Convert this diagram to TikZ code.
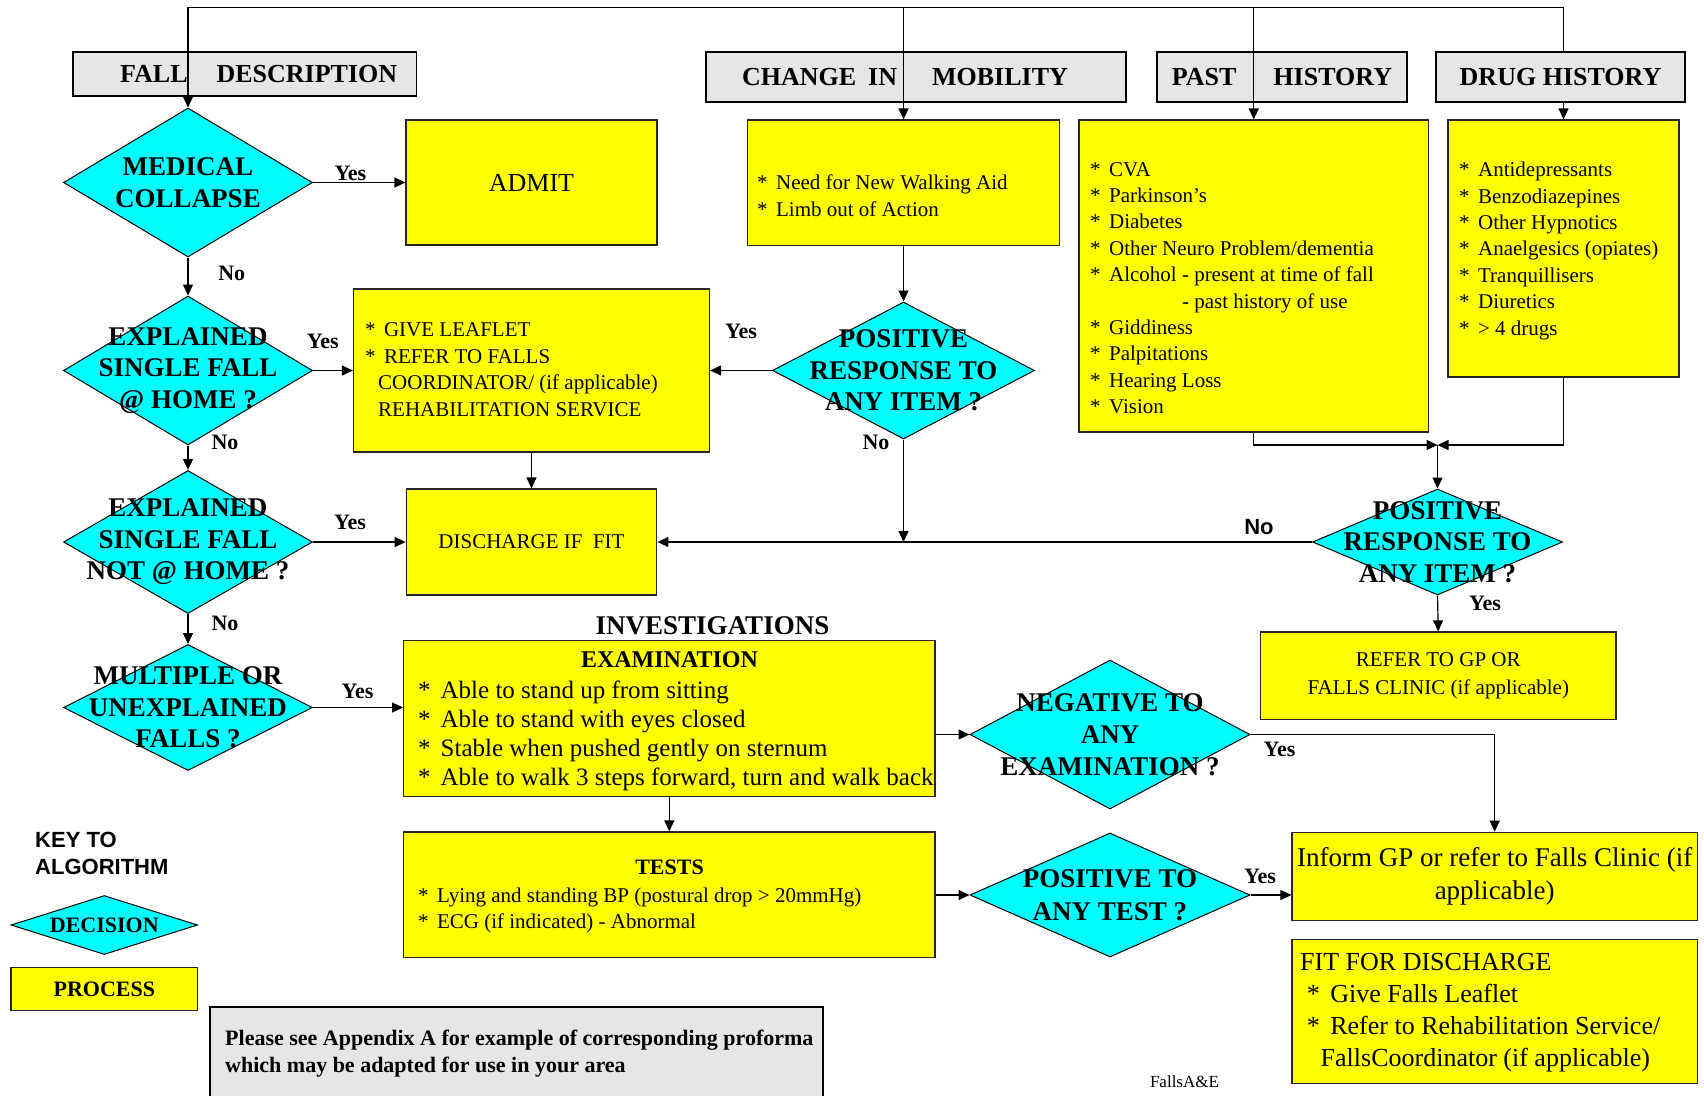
\documentclass[tikz,border=0pt]{standalone}
\usepackage{fontspec}
\setmainfont{Liberation Serif}
\setsansfont{Liberation Sans}
\usepackage{xcolor}
\usepackage{tikz}
\usetikzlibrary{shapes.geometric,arrows.meta,calc}
\definecolor{boxgray}{HTML}{E6E6E6}
\definecolor{procyellow}{HTML}{FFFF00}
\definecolor{deccyan}{HTML}{00FFFF}
\newcommand{\fsz}[2]{\fontsize{#1}{#2}\selectfont}
\newcommand{\bul}{*\hspace{0.4em}}

\begin{document}
\begin{tikzpicture}[x=1pt,y=-1pt,
	header/.style={draw,line width=1.6pt,fill=boxgray,inner sep=0pt,font=\fsz{26}{30}\bfseries},
	process/.style={draw=black!85,line width=1.2pt,fill=procyellow,inner sep=0pt,font=\fsz{21}{27}},
	decision/.style={diamond,draw,line width=1pt,fill=deccyan,inner sep=0pt},
	dtext/.style={align=center,inner sep=0pt,font=\fsz{27}{31.5}\bfseries},
	ltext/.style={align=left,anchor=north west,inner sep=0pt,font=\fsz{21}{26.4}},
	answer/.style={inner sep=0pt,font=\fsz{22}{26}\bfseries},
	arr/.style={line width=1.2pt,-{Triangle[length=11pt,width=10pt]}}]
	\useasboundingbox (0,0) rectangle (1704,1095);
	\node[header,minimum width=343.5pt,minimum height=44pt] (fdesc) at (244.7,74) {\hspace*{28pt}FALL\hspace{29pt}DESCRIPTION};
	\node[header,line width=2.6pt,minimum width=420pt,minimum height=50pt] (chmob) at (916,77) {CHANGE\hspace{12pt}IN\hspace{35pt}MOBILITY\hspace*{22pt}};
	\node[header,minimum width=250pt,minimum height=50pt] (pasth) at (1282,77) {PAST\hspace{37pt}HISTORY};
	\node[header,minimum width=249pt,minimum height=50pt] (drugh) at (1560.5,77) {DRUG HISTORY};
	
	\node[decision,minimum width=249pt,minimum height=149pt] (mc) at (188,182.5) {};
	\node[decision,minimum width=249pt,minimum height=149pt] (eh) at (188,370.5) {};
	\node[decision,minimum width=249pt,minimum height=143pt] (enh) at (188,542) {};
	\node[decision,minimum width=249pt,minimum height=126pt] (mu) at (188,707.5) {};
	\node[decision,minimum width=262pt,minimum height=137pt] (pr1) at (903.5,370.5) {};
	\node[decision,minimum width=250pt,minimum height=106pt] (pr2) at (1437.5,542) {};
	\node[decision,minimum width=280pt,minimum height=149pt] (neg) at (1110,734.5) {};
	\node[decision,minimum width=280pt,minimum height=124pt] (pt) at (1110,895) {};
	\node[decision,minimum width=186.6pt,minimum height=59pt] (keydec) at (104.3,925) {};
	
	\node[dtext] (mctxt) at (mc) {MEDICAL\\COLLAPSE};
	\node[dtext] (ehtxt) at (eh) {EXPLAINED\\SINGLE FALL\\@ HOME ?};
	\node[dtext] (enhtxt) at (enh) {EXPLAINED\\SINGLE FALL\\NOT @ HOME ?};
	\node[dtext] (mutxt) at (mu) {MULTIPLE OR\\UNEXPLAINED\\FALLS ?};
	\node[dtext] (pr1txt) at (pr1) {POSITIVE\\RESPONSE TO\\ANY ITEM ?};
	\node[dtext] (pr2txt) at (pr2) {POSITIVE\\RESPONSE TO\\ANY ITEM ?};
	\node[dtext,font=\fsz{27}{32}\bfseries] (negtxt) at (neg) {NEGATIVE TO\\ANY\\EXAMINATION ?};
	\node[dtext,font=\fsz{27}{32.6}\bfseries] (pttxt) at (pt) {POSITIVE TO\\ANY TEST ?};
	\node[dtext,font=\fsz{22}{26}\bfseries] (keydectxt) at (keydec) {DECISION};
	
	\node[process,minimum width=251pt,minimum height=125pt,font=\fsz{26}{30}] (admit) at (531.5,182.5) {ADMIT};
	\node[process,minimum width=312pt,minimum height=125.6pt] (mob) at (903.5,182.8) {};
	\node[process,minimum width=349.5pt,minimum height=312pt] (past) at (1253.75,276) {};
	\node[process,minimum width=231pt,minimum height=257pt] (drug) at (1563.5,248.5) {};
	\node[process,minimum width=356pt,minimum height=163pt] (leaf) at (531.5,370.5) {};
	\node[process,minimum width=250.6pt,minimum height=106pt] (disch) at (531.5,542) {DISCHARGE IF\ \ FIT};
	\node[process,minimum width=531.4pt,minimum height=156pt] (exam) at (669.3,718.7) {};
	\node[process,minimum width=531.4pt,minimum height=125.7pt] (tests) at (669.3,894.85) {};
	\node[process,minimum width=355.5pt,minimum height=87.3pt,align=center,font=\fsz{21}{27.6}] (refgp) at (1438.25,675.6) {REFER TO GP OR\\FALLS CLINIC (if applicable)};
	\node[process,minimum width=405.4pt,minimum height=88pt,align=center,font=\fsz{27}{32.3}] (inform) at (1494.7,876.3) {Inform GP or refer to Falls Clinic (if\\applicable)};
	\node[process,minimum width=405.4pt,minimum height=144pt] (fit) at (1494.7,1011.3) {};
	\node[process,minimum width=186.6pt,minimum height=43.4pt,font=\fsz{22}{26}\bfseries] (keyproc) at (104.3,989) {PROCESS};
	\node[draw,line width=1.6pt,fill=boxgray,minimum width=613pt,minimum height=90pt] (note) at (516.5,1052) {};
	
	\node[ltext] (mobtxt) at (757,175) {\bul Need for New Walking Aid\\\bul Limb out of Action};
	\node[ltext] (pasttxt) at (1090,162) {\bul CVA\\\bul Parkinson's\\\bul Diabetes\\\bul Other Neuro Problem/dementia\\\bul Alcohol - present at time of fall\\\phantom{\bul Alcohol }- past history of use\\\bul Giddiness\\\bul Palpitations\\\bul Hearing Loss\\\bul Vision};
	\node[ltext] (drugtxt) at (1459,162) {\bul Antidepressants\\\bul Benzodiazepines\\\bul Other Hypnotics\\\bul Anaelgesics (opiates)\\\bul Tranquillisers\\\bul Diuretics\\\bul > 4 drugs};
	\node[ltext,font=\fsz{21}{26.7}] (leaftxt) at (365,322.4) {\bul GIVE LEAFLET\\\bul REFER TO FALLS\\\hspace*{13pt}COORDINATOR/ (if applicable)\\\hspace*{13pt}REHABILITATION SERVICE};
	\node[inner sep=0pt,font=\fsz{27}{31}\bfseries] (invest) at (712.5,626) {INVESTIGATIONS};
	\node[inner sep=0pt,font=\fsz{24}{28}\bfseries] (examttl) at (669.5,660) {EXAMINATION};
	\node[ltext,font=\fsz{25}{29}] (examtxt) at (418,681) {\bul Able to stand up from sitting\\\bul Able to stand with eyes closed\\\bul Stable when pushed gently on sternum\\\bul Able to walk 3 steps forward, turn and walk back};
	\node[inner sep=0pt,font=\fsz{22}{26}\bfseries] (teststtl) at (669.5,867.3) {TESTS};
	\node[ltext,font=\fsz{21}{25.7}] (teststxt) at (418,887.7) {\bul Lying and standing BP (postural drop > 20mmHg)\\\bul ECG (if indicated) - Abnormal};
	\node[ltext,font=\fsz{26}{31.9}] (fittxt) at (1300,953.3) {FIT FOR DISCHARGE\\\hspace*{6.7pt}\bul Give Falls Leaflet\\\hspace*{6.7pt}\bul Refer to Rehabilitation Service/\\\hspace*{20.5pt}FallsCoordinator (if applicable)};
	\node[ltext,font=\fsz{22}{26.5}\bfseries] (notetxt) at (225,1030) {Please see Appendix A for example of corresponding proforma\\which may be adapted for use in your area};
	\node[ltext,font=\fsz{22}{26.7}\sffamily\bfseries] (keyttl) at (35,832) {KEY TO\\ALGORITHM};
	\node[inner sep=0pt,font=\fsz{17}{20}] (footer) at (1184.5,1082) {FallsA\&E};
	
	\node[answer] (y1) at (350.4,173) {Yes};
	\node[answer] (n1) at (231.7,273) {No};
	\node[answer] (y2) at (322.7,341.2) {Yes};
	\node[answer] (n2) at (225,442) {No};
	\node[answer] (y3) at (350,522.7) {Yes};
	\node[answer] (n3) at (225,623) {No};
	\node[answer] (y4) at (357.6,691.7) {Yes};
	\node[answer] (y5) at (741,331.4) {Yes};
	\node[answer] (n5) at (876,442.3) {No};
	\node[answer,font=\fsz{22}{26}\sffamily\bfseries] (n6) at (1259,527) {No};
	\node[answer] (y6) at (1485,603) {Yes};
	\node[answer] (y7) at (1279.5,749.3) {Yes};
	\node[answer] (y8) at (1260,876) {Yes};
	
	\coordinate (t4) at (1563.5,7.5);
	\coordinate (mg) at (pr2.north |- 0,445);
	\draw[arr] (t4 |- drugh.north) -- (t4) -| (mc.north);
	\draw[arr] (mob.north |- t4) -- (mob.north);
	\draw[arr] (past.north |- t4) -- (past.north);
	\draw[arr] (t4 |- drugh.south) -- (drug.north);
	\draw[arr] (mc.east) -- (admit.west);
	\draw[arr] (mc.south) -- (eh.north);
	\draw[arr] (eh.east) -- (leaf.west);
	\draw[arr] (eh.south) -- (enh.north);
	\draw[arr] (enh.east) -- (disch.west);
	\draw[arr] (enh.south) -- (mu.north);
	\draw[arr] (mu.east) -- (mu.east -| exam.west);
	\draw[arr] (mob.south) -- (pr1.north);
	\draw[arr] (pr1.west) -- (leaf.east);
	\draw[arr] (pr1.south) -- (pr1.south |- disch.east);
	\draw[arr] (leaf.south) -- (disch.north);
	\draw[arr] (pr2.west) -- (disch.east);
	\draw[arr] (past.south) |- (mg);
	\draw[arr] (drug.south) |- (mg);
	\draw[arr] (mg) -- (pr2.north);
	\draw[arr] (pr2.south) -- (refgp.north);
	\draw[arr] (exam.south) -- (tests.north);
	\draw[arr] (exam.east |- neg.west) -- (neg.west);
	\draw[arr] (neg.east) -| (inform.north);
	\draw[arr] (tests.east |- pt.west) -- (pt.west);
	\draw[arr] (pt.east) -- (pt.east -| inform.west);
\end{tikzpicture}
\end{document}
